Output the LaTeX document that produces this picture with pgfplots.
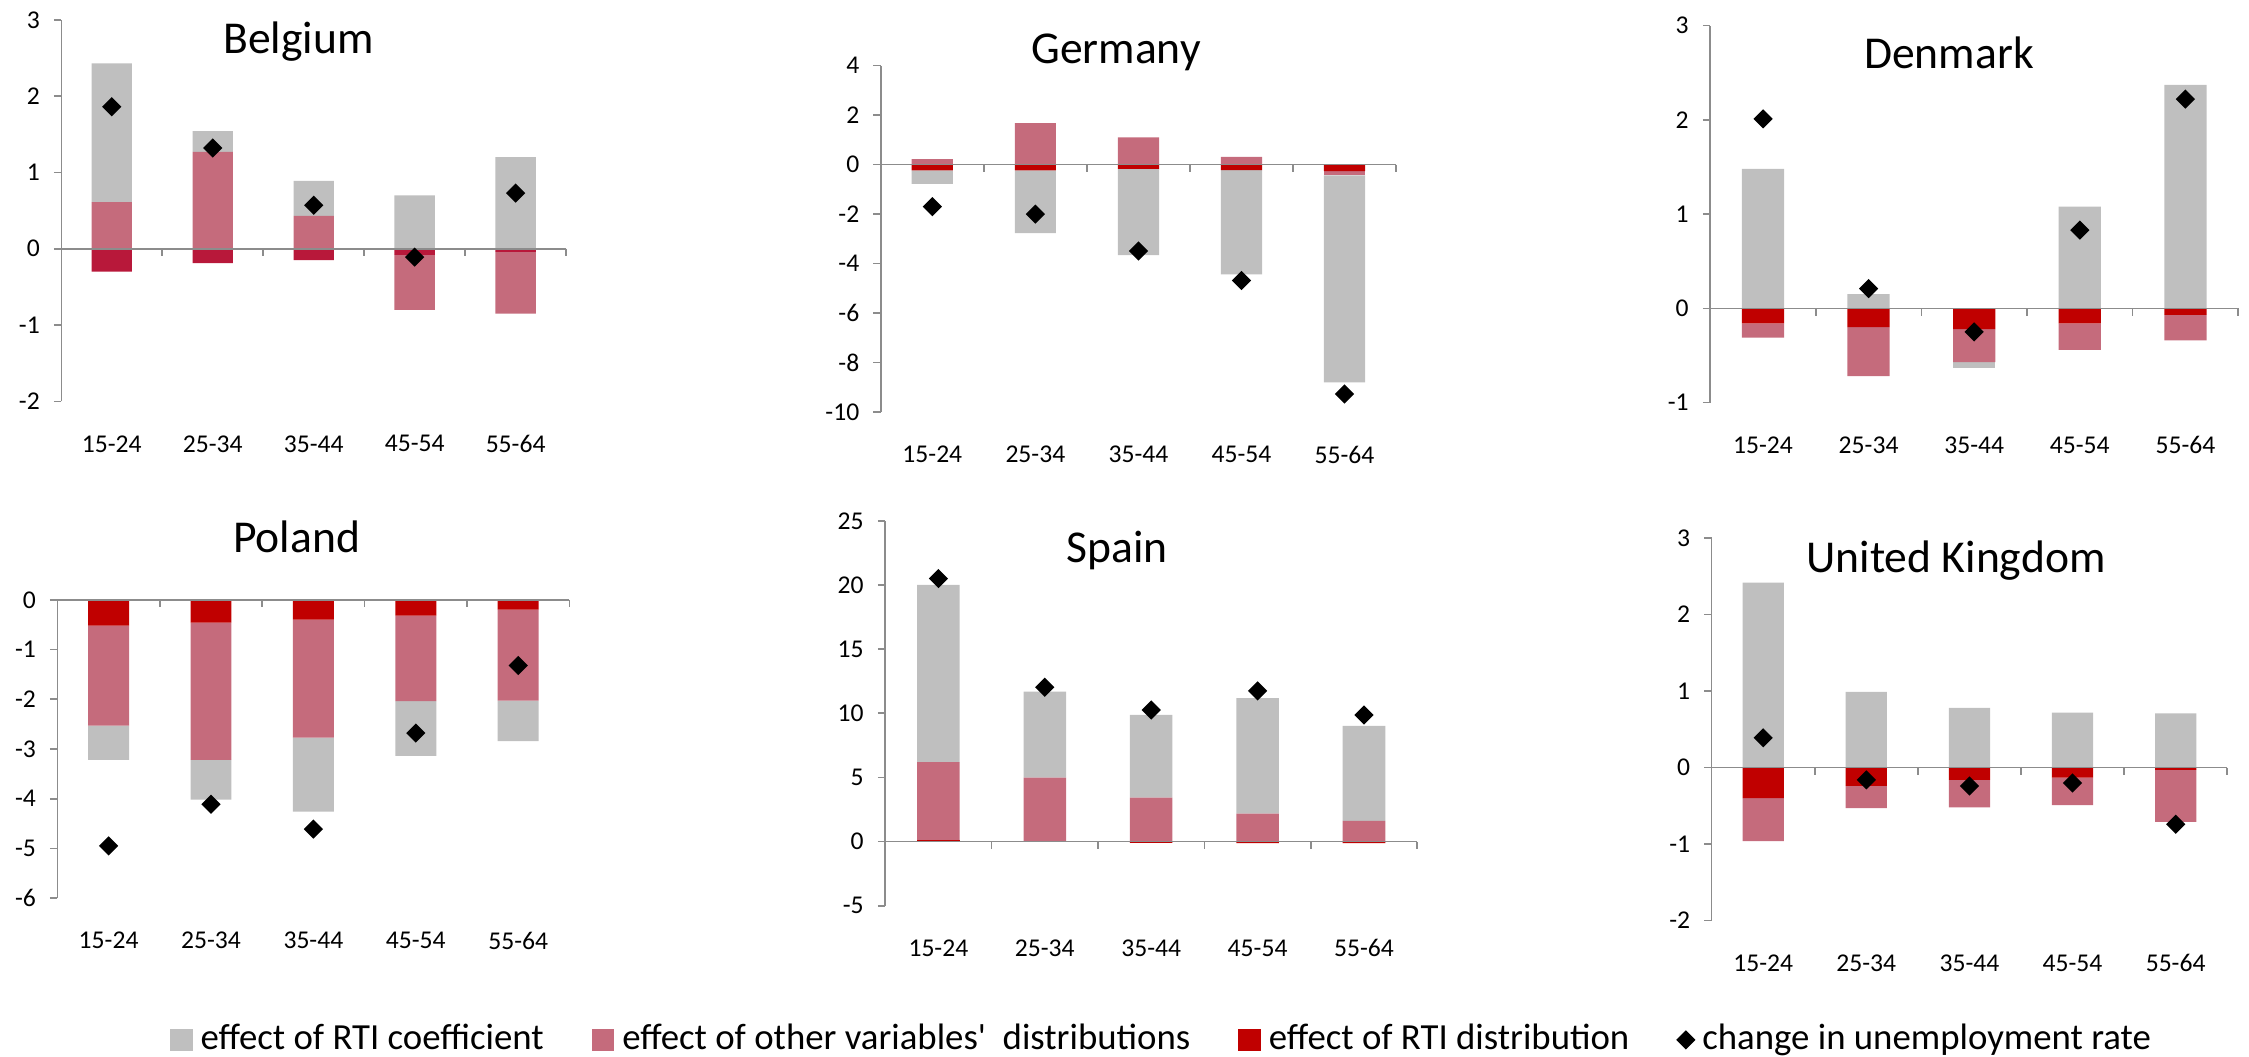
\documentclass[border=0pt]{standalone}
\usepackage{pgfplots}
\usepackage{pgfplotstable}
\usepackage{fontspec}
\setmainfont{Carlito}
\pgfplotsset{compat=1.18}

\definecolor{rtigray}{RGB}{191,191,191}
\definecolor{otherpink}{RGB}{197,107,124}
\definecolor{rtired}{RGB}{192,0,0}
\definecolor{berred}{RGB}{184,24,58}
\definecolor{axisgray}{RGB}{140,140,140}

% r = RTI distribution, p = other variables, g = RTI coefficient
% ...p columns hold the positive parts, ...n the negative parts; d = change in unemployment rate
\pgfplotstableread{
x rp pp gp rn pn gn d
0 0 0.61 1.82 -0.30 0 0 1.86
1 0 1.27 0.27 -0.19 0 0 1.32
2 0 0.43 0.46 -0.15 0 0 0.57
3 0 0 0.70 -0.08 -0.72 0 -0.11
4 0 0 1.20 -0.04 -0.81 0 0.73
}\belgium
\pgfplotstableread{
x rp pp gp rn pn gn d
0 0 0.22 0 -0.23 0 -0.55 -1.70
1 0 1.68 0 -0.23 0 -2.54 -2.00
2 0 1.10 0 -0.17 0 -3.49 -3.49
3 0 0.31 0 -0.22 0 -4.21 -4.68
4 0 0 0 -0.26 -0.18 -8.36 -9.27
}\germany
\pgfplotstableread{
x rp pp gp rn pn gn d
0 0 0 1.48 -0.16 -0.15 0 2.01
1 0 0 0.15 -0.20 -0.52 0 0.21
2 0 0 0 -0.22 -0.35 -0.06 -0.25
3 0 0 1.08 -0.16 -0.28 0 0.83
4 0 0 2.37 -0.07 -0.27 0 2.22
}\denmark
\pgfplotstableread{
x rp pp gp rn pn gn d
0 0 0 0 -0.52 -2.01 -0.69 -4.95
1 0 0 0 -0.46 -2.76 -0.80 -4.11
2 0 0 0 -0.40 -2.37 -1.49 -4.61
3 0 0 0 -0.32 -1.72 -1.10 -2.68
4 0 0 0 -0.20 -1.83 -0.81 -1.32
}\poland
\pgfplotstableread{
x rp pp gp rn pn gn d
0 0.10 6.10 13.80 0 0 0 20.50
1 0 4.99 6.70 0 0 0 12.03
2 0 3.43 6.44 -0.10 0 0 10.26
3 0 2.18 9.01 -0.12 0 0 11.74
4 0 1.61 7.40 -0.12 0 0 9.87
}\spain
\pgfplotstableread{
x rp pp gp rn pn gn d
0 0 0 2.42 -0.40 -0.56 0 0.39
1 0 0 0.99 -0.24 -0.29 0 -0.16
2 0 0 0.78 -0.16 -0.36 0 -0.24
3 0 0 0.72 -0.13 -0.36 0 -0.20
4 0 0 0.71 -0.03 -0.68 0 -0.74
}\uk

\pgfplotsset{
	panel/.style={
		scale only axis,
		anchor=south west,
		xmin=-0.5, xmax=4.5,
		bar width=0.4,
		axis y line*=left,
		axis x line*=bottom,
		x axis line style={draw=none},
		y axis line style={axisgray, line width=0.4pt},
		xtick={0,...,4},
		xticklabels={15-24,25-34,35-44,45-54,55-64},
		xtick style={draw=none},
		ytick style={axisgray, line width=0.4pt},
		tick align=outside,
		major tick length=1.85pt,
		tick label style={font=\fontsize{6.4}{7.5}\selectfont},
		xticklabel style={anchor=center, yshift=-8.75pt},
		yticklabel style={anchor=east},
		/pgf/number format/assume math mode=true,
		every axis plot/.append style={draw=none},
		clip=false,
	},
	stackpanel/.style={panel, ybar stacked},
}

% #1 table, #2 #3 lower left corner, #4 width, #5 height, #6 ymin, #7 ymax, #8 tick step, #9 colour of RTI distribution
\newcommand{\panel}[9]{%
	\begin{axis}[stackpanel, at={(#2,#3)}, width=#4, height=#5, ymin=#6, ymax=#7, ytick distance=#8]
		\addplot[fill=#9] table[x=x, y=rp] {#1};
		\addplot[fill=otherpink] table[x=x, y=pp] {#1};
		\addplot[fill=rtigray] table[x=x, y=gp] {#1};
	\end{axis}
	\begin{axis}[stackpanel, hide axis, at={(#2,#3)}, width=#4, height=#5, ymin=#6, ymax=#7]
		\addplot[fill=#9] table[x=x, y=rn] {#1};
		\addplot[fill=otherpink] table[x=x, y=pn] {#1};
		\addplot[fill=rtigray] table[x=x, y=gn] {#1};
	\end{axis}
	\begin{axis}[panel, hide axis, at={(#2,#3)}, width=#4, height=#5, ymin=#6, ymax=#7]
		\draw[axisgray, line width=0.4pt] (axis cs:-0.5,0) -- (axis cs:4.5,0);
		\pgfplotsinvokeforeach{0.5,1.5,2.5,3.5,4.5}{
			\draw[axisgray, line width=0.4pt] (axis cs:##1,0) -- ++(0pt,-1.85pt);
		}
		\addplot[only marks, mark=square*, mark size=1.5pt,
			mark options={rotate=45, fill=black, draw=black}] table[x=x, y=d] {#1};
	\end{axis}
}

\begin{document}
\begin{tikzpicture}
	\useasboundingbox (0pt,0pt) rectangle (562.25pt,264.25pt);

	\panel{\belgium}{15.33pt}{163.9pt}{126.2pt}{95.4pt}{-2}{3}{1}{berred}
	\panel{\germany}{220.2pt}{161.2pt}{128.8pt}{86.65pt}{-10}{4}{2}{rtired}
	\panel{\denmark}{427.55pt}{163.6pt}{132pt}{94.25pt}{-1}{3}{1}{rtired}
	\panel{\poland}{14.35pt}{39.7pt}{128pt}{74.6pt}{-6}{0}{1}{rtired}
	\panel{\spain}{221.3pt}{37.8pt}{133pt}{96.25pt}{-5}{25}{5}{rtired}
	\panel{\uk}{427.9pt}{34.1pt}{128.9pt}{95.6pt}{-2}{3}{1}{rtired}

	\begin{scope}[font=\fontsize{11.4}{13}\selectfont]
		\node[anchor=base] at (74.6pt,250.9pt) {Belgium};
		\node[anchor=base] at (279pt,248.4pt) {Germany};
		\node[anchor=base] at (487.25pt,247.2pt) {Denmark};
		\node[anchor=base] at (74.15pt,126pt) {Poland};
		\node[anchor=base] at (279.25pt,123.5pt) {Spain};
		\node[anchor=base] at (489pt,121pt) {United Kingdom};
	\end{scope}

	\begin{axis}[
		hide axis, scale only axis,
		at={(0pt,0pt)}, anchor=south west,
		width=562.25pt, height=264.25pt,
		xmin=0, xmax=1, ymin=0, ymax=1,
		legend columns=4,
		legend cell align=left,
		legend style={
			at={(0.0752,0.0161)}, anchor=west,
			draw=none, fill=none, inner sep=0pt,
			font=\fontsize{9.2}{11}\selectfont,
			/tikz/every even column/.append style={column sep=10pt},
		},
	]
		\addlegendimage{legend image code/.code={\fill[rtigray] (0pt,-2.6pt) rectangle (5.25pt,2.6pt);}}
		\addlegendentry{effect of RTI coefficient}
		\addlegendimage{legend image code/.code={\fill[otherpink] (0pt,-2.6pt) rectangle (5.25pt,2.6pt);}}
		\addlegendentry{effect of other variables\textquotesingle\ \ distributions}
		\addlegendimage{legend image code/.code={\fill[rtired] (0pt,-2.6pt) rectangle (5.25pt,2.6pt);}}
		\addlegendentry{effect of RTI distribution}
		\addlegendimage{legend image code/.code={\draw[black, fill=black, only marks, mark=square*, mark size=1.5pt,
			mark options={rotate=45}] plot coordinates {(2.6pt,0pt)};}}
		\addlegendentry{change in unemployment rate}
	\end{axis}
\end{tikzpicture}
\end{document}
